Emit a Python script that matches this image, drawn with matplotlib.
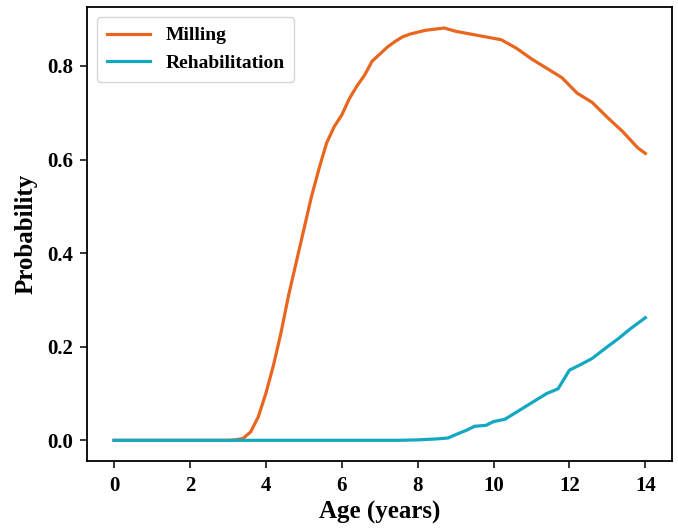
import matplotlib
matplotlib.use("Agg")
import matplotlib.pyplot as plt

plt.rcParams['font.family'] = ['Liberation Serif', 'DejaVu Serif']
plt.rcParams['font.weight'] = 'bold'

age_milling = [0, 1, 2, 3.0, 3.2, 3.4, 3.6, 3.8, 4.0, 4.2, 4.4, 4.6, 4.8, 5.0, 5.2, 5.4, 5.6,
               5.8, 6.0, 6.2, 6.4, 6.6, 6.8, 7.0, 7.2, 7.4, 7.6, 7.8, 8.0, 8.2, 8.4, 8.7,
               9.0, 9.4, 9.8, 10.2, 10.6, 11.0, 11.4, 11.8, 12.2, 12.6, 13.0, 13.4, 13.8, 14.0]
milling = [0, 0, 0, 0.0, 0.001, 0.004, 0.018, 0.05, 0.10, 0.16, 0.23, 0.31, 0.38, 0.45, 0.52,
           0.58, 0.635, 0.67, 0.695, 0.73, 0.757, 0.78, 0.81, 0.825, 0.84, 0.852, 0.862, 0.868,
           0.872, 0.876, 0.878, 0.881, 0.874, 0.868, 0.862, 0.856, 0.838, 0.815, 0.795, 0.775,
           0.742, 0.722, 0.69, 0.66, 0.625, 0.613]

age_rehab = [0, 2, 4, 6, 7.5, 8.0, 8.5, 8.8, 9.0, 9.3, 9.5, 9.8, 10.0, 10.3, 10.6, 11.0,
             11.4, 11.7, 12.0, 12.3, 12.6, 13.0, 13.3, 13.6, 14.0]
rehab = [0, 0, 0, 0, 0.0, 0.001, 0.003, 0.005, 0.012, 0.022, 0.03, 0.032, 0.04, 0.045, 0.06,
         0.08, 0.1, 0.11, 0.15, 0.162, 0.175, 0.2, 0.218, 0.238, 0.262]

xticks = [0, 2, 4, 6, 8, 10, 12, 14]
yticks = [0.0, 0.2, 0.4, 0.6, 0.8]

fig, ax = plt.subplots(figsize=(6.78, 5.28), dpi=100)
fig.subplots_adjust(left=0.129, right=0.991, top=0.986, bottom=0.127)

ax.plot(age_milling, milling, color='#E8661E', lw=2.3, label='Milling')
ax.plot(age_rehab, rehab, color='#13A8C2', lw=2.3, label='Rehabilitation')

ax.set_xticks(xticks)
ax.set_yticks(yticks)
ax.set_xticklabels([str(t) for t in xticks], fontsize=15, fontweight='bold')
ax.set_yticklabels([f'{t:.1f}' for t in yticks], fontsize=15, fontweight='bold')
ax.tick_params(length=5, width=1.1, pad=5.5)
ax.set_xlabel('Age (years)', fontsize=18, fontweight='bold', labelpad=4)
ax.set_ylabel('Probability', fontsize=18, fontweight='bold', labelpad=7)
for s in ax.spines.values():
    s.set_linewidth(1.3)

leg = ax.legend(loc='upper left', prop={'size': 14, 'weight': 'bold'}, handlelength=2.2,
                borderpad=0.5)

fig.savefig('out.png', dpi=100)
